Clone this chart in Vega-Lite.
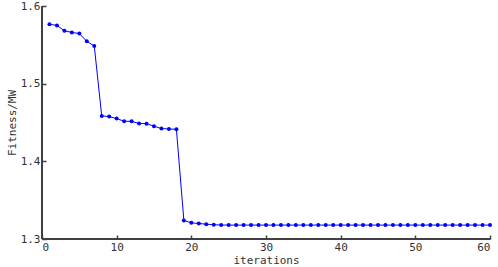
{
  "$schema": "https://vega.github.io/schema/vega-lite/v6.json",
  "width": 448,
  "height": 233,
  "autosize": {"type": "none"},
  "padding": {"left": 42, "top": 6, "right": 8, "bottom": 28},
  "background": "white",
  "config": {
    "view": {"stroke": null},
    "axis": {
      "labelColor": "#333333",
      "titleColor": "#333333",
      "labelFont": "DejaVu Sans Mono",
      "titleFont": "DejaVu Sans Mono",
      "labelFontSize": 11,
      "titleFontSize": 11,
      "titleFontWeight": "normal"
    }
  },
  "data": {
    "values": [
      {"iter": 1, "fit": 1.5765},
      {"iter": 2, "fit": 1.5750},
      {"iter": 3, "fit": 1.5681},
      {"iter": 4, "fit": 1.5660},
      {"iter": 5, "fit": 1.5645},
      {"iter": 6, "fit": 1.5545},
      {"iter": 7, "fit": 1.5485},
      {"iter": 8, "fit": 1.4585},
      {"iter": 9, "fit": 1.4576},
      {"iter": 10, "fit": 1.4550},
      {"iter": 11, "fit": 1.4516},
      {"iter": 12, "fit": 1.4515},
      {"iter": 13, "fit": 1.4487},
      {"iter": 14, "fit": 1.4485},
      {"iter": 15, "fit": 1.4452},
      {"iter": 16, "fit": 1.4422},
      {"iter": 17, "fit": 1.4416},
      {"iter": 18, "fit": 1.4413},
      {"iter": 19, "fit": 1.3239},
      {"iter": 20, "fit": 1.3208},
      {"iter": 21, "fit": 1.3200},
      {"iter": 22, "fit": 1.3191},
      {"iter": 23, "fit": 1.3184},
      {"iter": 24, "fit": 1.3180},
      {"iter": 25, "fit": 1.3179},
      {"iter": 26, "fit": 1.3179},
      {"iter": 27, "fit": 1.3179},
      {"iter": 28, "fit": 1.3179},
      {"iter": 29, "fit": 1.3179},
      {"iter": 30, "fit": 1.3179},
      {"iter": 31, "fit": 1.3179},
      {"iter": 32, "fit": 1.3179},
      {"iter": 33, "fit": 1.3179},
      {"iter": 34, "fit": 1.3179},
      {"iter": 35, "fit": 1.3179},
      {"iter": 36, "fit": 1.3179},
      {"iter": 37, "fit": 1.3179},
      {"iter": 38, "fit": 1.3179},
      {"iter": 39, "fit": 1.3179},
      {"iter": 40, "fit": 1.3179},
      {"iter": 41, "fit": 1.3179},
      {"iter": 42, "fit": 1.3179},
      {"iter": 43, "fit": 1.3179},
      {"iter": 44, "fit": 1.3179},
      {"iter": 45, "fit": 1.3179},
      {"iter": 46, "fit": 1.3179},
      {"iter": 47, "fit": 1.3179},
      {"iter": 48, "fit": 1.3179},
      {"iter": 49, "fit": 1.3179},
      {"iter": 50, "fit": 1.3179},
      {"iter": 51, "fit": 1.3179},
      {"iter": 52, "fit": 1.3179},
      {"iter": 53, "fit": 1.3179},
      {"iter": 54, "fit": 1.3179},
      {"iter": 55, "fit": 1.3179},
      {"iter": 56, "fit": 1.3179},
      {"iter": 57, "fit": 1.3179},
      {"iter": 58, "fit": 1.3179},
      {"iter": 59, "fit": 1.3179},
      {"iter": 60, "fit": 1.3179}
    ]
  },
  "layer": [
    {
      "mark": {"type": "rule", "color": "#404040", "strokeWidth": 1.5},
      "encoding": {"y": {"datum": 1.3, "type": "quantitative", "scale": {"domain": [1.3, 1.6], "nice": false, "zero": false}}}
    },
    {
      "mark": {"type": "rule", "color": "#404040", "strokeWidth": 1.5},
      "encoding": {"x": {"datum": 0, "type": "quantitative", "scale": {"domain": [0, 60], "nice": false, "zero": false}}}
    },
    {
      "encoding": {
        "x": {
          "field": "iter",
          "type": "quantitative",
          "scale": {"domain": [0, 60], "nice": false, "zero": false},
          "axis": {"values": [0, 10, 20, 30, 40, 50, 60], "title": "iterations", "titlePadding": 2, "grid": false, "domainColor": "#404040", "domainWidth": 1, "tickColor": "#404040", "tickWidth": 1.5, "tickSize": -4, "labelPadding": 6}
        },
        "y": {
          "field": "fit",
          "type": "quantitative",
          "scale": {"domain": [1.3, 1.6], "nice": false, "zero": false},
          "axis": {"values": [1.3, 1.35, 1.4, 1.45, 1.5, 1.55, 1.6], "format": ".2~f", "title": "Fitness/MW", "titlePadding": 3, "grid": false, "domainColor": "#404040", "domainWidth": 1, "tickColor": "#404040", "tickWidth": 1.5, "tickSize": -4, "labelPadding": 6}
        }
      },
      "layer": [
        {"mark": {"type": "line", "color": "#0000ff", "strokeWidth": 1}},
        {"mark": {"type": "point", "filled": true, "shape": "circle", "size": 16, "color": "#0000ff", "opacity": 1}}
      ]
    }
  ]
}
